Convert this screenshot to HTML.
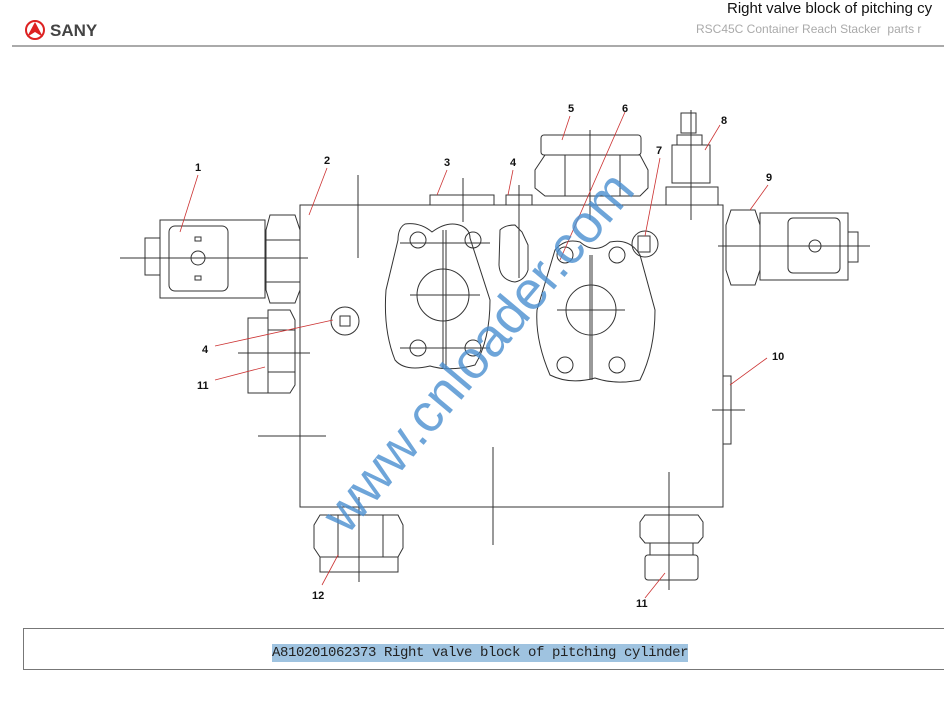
<!DOCTYPE html>
<html><head><meta charset="utf-8"><style>
html,body{margin:0;padding:0;background:#fff;width:944px;height:706px;overflow:hidden;position:relative;font-family:"Liberation Sans",sans-serif}
.t1{position:absolute;left:727px;top:0px;font-size:15px;color:#111;white-space:nowrap}
.t2{position:absolute;left:696px;top:22px;font-size:12px;color:#aaa;white-space:nowrap}
.cap{position:absolute;left:23px;top:628px;width:940px;height:42px;border:1px solid #777;border-right:none;box-sizing:border-box}
.capt{position:absolute;left:272px;top:644px;font-family:"Liberation Mono",monospace;font-size:14px;background:#9fc3e0;color:#222;white-space:nowrap;line-height:18px;letter-spacing:-0.4px}
.wm{position:absolute;left:253px;top:322px;font-size:54px;color:#4a8fd0;opacity:.8;transform:rotate(-50deg);transform-origin:center;white-space:nowrap;width:450px;text-align:center;line-height:60px}
</style></head><body>
<div class="t1">Right valve block of pitching cy</div>
<div class="t2">RSC45C Container Reach Stacker&nbsp; parts r</div>
<svg width="944" height="706" style="position:absolute;left:0;top:0">
<g>
<circle cx="35" cy="30" r="9" fill="none" stroke="#d22" stroke-width="2"/>
<path d="M35 22 L43 37 L35 32 L27 37 Z" fill="#d22"/>
<text x="50" y="36" font-size="17" font-weight="bold" fill="#444" font-family="Liberation Sans">SANY</text>
</g>
<line x1="12" y1="46" x2="944" y2="46" stroke="#aaa" stroke-width="2"/>
<g fill="none" stroke="#333" stroke-width="1">
<rect x="300" y="205" width="423" height="302"/>
<line x1="358" y1="175" x2="358" y2="258"/><line x1="258" y1="436" x2="326" y2="436"/>
<line x1="493" y1="447" x2="493" y2="545"/>
<rect x="160" y="220" width="105" height="78"/>
<rect x="169" y="226" width="59" height="65" rx="6"/>
<rect x="145" y="238" width="15" height="37"/>
<rect x="195" y="237" width="6" height="4"/><rect x="195" y="276" width="6" height="4"/>
<circle cx="198" cy="258" r="7"/>
<line x1="120" y1="258" x2="308" y2="258"/>
<path d="M270 215 H295 L300 230 V290 L295 303 H270 L266 290 V230 Z"/>
<line x1="266" y1="240" x2="300" y2="240"/><line x1="266" y1="282" x2="300" y2="282"/>
<rect x="248" y="318" width="20" height="75"/>
<path d="M268 310 H290 L295 320 V385 L290 393 H268 Z"/>
<line x1="238" y1="353" x2="310" y2="353"/>
<line x1="268" y1="330" x2="295" y2="330"/><line x1="268" y1="372" x2="295" y2="372"/>
<circle cx="345" cy="321" r="14"/><path d="M340 316 h10 v10 h-10z"/>
<rect x="430" y="195" width="64" height="10"/>
<line x1="463" y1="178" x2="463" y2="222"/>
<path d="M405 224 Q420 222 432 232 Q448 220 462 226 Q470 230 470 238 L490 300 Q490 340 475 365 Q450 372 430 366 Q405 372 395 360 Q383 330 386 290 L398 240 Q398 228 405 224 Z"/>
<line x1="443" y1="230" x2="443" y2="368"/><line x1="446" y1="230" x2="446" y2="368"/>
<circle cx="443" cy="295" r="26"/>
<line x1="410" y1="295" x2="480" y2="295"/>
<circle cx="418" cy="240" r="8"/><circle cx="473" cy="240" r="8"/>
<circle cx="418" cy="348" r="8"/><circle cx="473" cy="348" r="8"/>
<line x1="400" y1="243" x2="490" y2="243"/><line x1="400" y1="348" x2="490" y2="348"/>
<rect x="506" y="195" width="26" height="10"/>
<line x1="519" y1="185" x2="519" y2="278"/>
<path d="M500 230 Q505 225 515 225 L522 232 L528 245 V270 Q525 280 515 282 Q500 280 499 265 Z"/>
<rect x="541" y="135" width="100" height="20" rx="3"/>
<path d="M545 155 H640 L648 170 V188 L640 196 H545 L535 188 V170 Z"/>
<line x1="565" y1="155" x2="565" y2="196"/><line x1="620" y1="155" x2="620" y2="196"/>
<line x1="590" y1="130" x2="590" y2="220"/>
<path d="M555 250 Q565 238 580 242 Q595 255 610 242 Q630 238 640 255 L655 310 Q655 350 640 380 Q615 385 595 378 Q570 385 550 375 Q535 340 537 310 Z"/>
<line x1="590" y1="255" x2="590" y2="380"/><line x1="592" y1="255" x2="592" y2="380"/>
<circle cx="591" cy="310" r="25"/><line x1="557" y1="310" x2="625" y2="310"/>
<circle cx="565" cy="255" r="8"/><circle cx="617" cy="255" r="8"/>
<circle cx="565" cy="365" r="8"/><circle cx="617" cy="365" r="8"/>
<circle cx="645" cy="244" r="13"/><rect x="638" y="236" width="12" height="16"/>
<rect x="681" y="113" width="15" height="20"/>
<rect x="677" y="135" width="25" height="10"/>
<path d="M672 145 H710 V183 H672 Z"/>
<rect x="666" y="187" width="52" height="18"/>
<line x1="691" y1="110" x2="691" y2="220"/>
<path d="M731 210 H755 L760 225 V270 L755 285 H731 L726 270 V225 Z"/>
<rect x="760" y="213" width="88" height="67"/>
<rect x="788" y="218" width="52" height="55" rx="5"/>
<rect x="848" y="232" width="10" height="30"/>
<circle cx="815" cy="246" r="6"/>
<line x1="718" y1="246" x2="870" y2="246"/>
<rect x="723" y="376" width="8" height="68"/>
<line x1="712" y1="410" x2="745" y2="410"/>
<path d="M320 515 H398 L403 525 V548 L398 557 H320 L314 548 V525 Z"/>
<line x1="338" y1="515" x2="338" y2="557"/><line x1="383" y1="515" x2="383" y2="557"/>
<rect x="320" y="557" width="78" height="15"/>
<line x1="359" y1="497" x2="359" y2="582"/>
<path d="M645 515 H698 L703 522 V537 L698 543 H645 L640 537 V522 Z"/>
<rect x="645" y="555" width="53" height="25" rx="3"/>
<line x1="650" y1="543" x2="650" y2="555"/><line x1="693" y1="543" x2="693" y2="555"/>
<line x1="669" y1="472" x2="669" y2="590"/>
</g>
<g stroke="#c33" stroke-width="0.8">
<line x1="198" y1="175" x2="180" y2="232"/>
<line x1="327" y1="168" x2="309" y2="215"/>
<line x1="447" y1="170" x2="437" y2="195"/>
<line x1="513" y1="170" x2="508" y2="195"/>
<line x1="570" y1="116" x2="562" y2="140"/>
<line x1="625" y1="112" x2="560" y2="260"/>
<line x1="660" y1="158" x2="645" y2="236"/>
<line x1="720" y1="125" x2="705" y2="150"/>
<line x1="768" y1="185" x2="750" y2="210"/>
<line x1="767" y1="358" x2="730" y2="385"/>
<line x1="215" y1="346" x2="333" y2="320"/>
<line x1="215" y1="380" x2="265" y2="367"/>
<line x1="322" y1="585" x2="338" y2="555"/>
<line x1="645" y1="598" x2="665" y2="573"/>
</g>
<g font-size="11" font-family="Liberation Sans" fill="#111" font-weight="bold">
<text x="195" y="171">1</text><text x="324" y="164">2</text><text x="444" y="166">3</text>
<text x="510" y="166">4</text><text x="568" y="112">5</text><text x="622" y="112">6</text>
<text x="656" y="154">7</text><text x="721" y="124">8</text><text x="766" y="181">9</text>
<text x="772" y="360">10</text><text x="202" y="353">4</text><text x="197" y="389">11</text>
<text x="312" y="599">12</text><text x="636" y="607">11</text>
</g>
</svg>
<div class="wm">www.cnloader.com</div>
<div class="cap"></div>
<div class="capt">A810201062373 Right valve block of pitching cylinder</div>
</body></html>
